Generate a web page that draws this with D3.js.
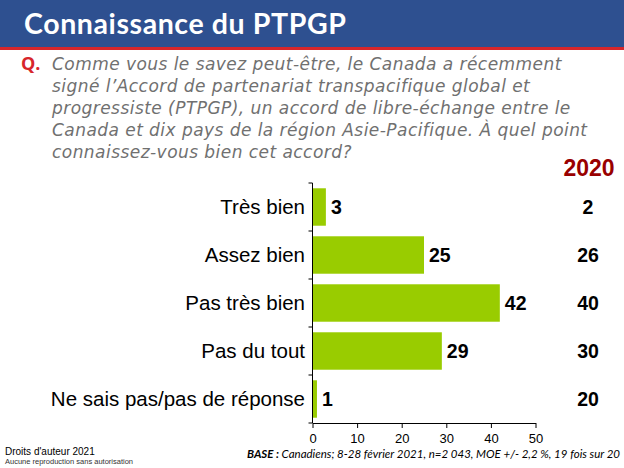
<!DOCTYPE html>
<html><head><meta charset="utf-8">
<script src="https://cdn.jsdelivr.net/npm/d3@7"></script>
<style>html,body{margin:0;padding:0;background:#fff;}svg{display:block;}</style>
</head><body>
<script>
const categories = ["Très bien", "Assez bien", "Pas très bien", "Pas du tout", "Ne sais pas/pas de réponse"];
const values2021 = [3, 25, 42, 29, 1];
const values2020 = [2, 26, 40, 30, 20];
const xTicks = [0, 10, 20, 30, 40, 50];
const questionLines = [
  "Comme vous le savez peut-être, le Canada a récemment",
  "signé l’Accord de partenariat transpacifique global et",
  "progressiste (PTPGP), un accord de libre-échange entre le",
  "Canada et dix pays de la région Asie-Pacifique. À quel point",
  "connaissez-vous bien cet accord?"
];

const W = 624, H = 468;
const svg = d3.select("body").append("svg").attr("width", W).attr("height", H);

// header
svg.append("rect").attr("x",0).attr("y",0).attr("width",W).attr("height",47).attr("fill","#2E5090");
svg.append("rect").attr("x",0).attr("y",47).attr("width",W).attr("height",3).attr("fill","#D7262B");
svg.append("text").attr("x",24).attr("y",34).attr("fill","#fff")
  .attr("font-family","Lato, 'Open Sans', sans-serif").attr("font-weight","bold").attr("font-size",28.5)
  .attr("letter-spacing",0.6)
  .text("Connaissance du PTPGP");

// question
svg.append("text").attr("x",21).attr("y",70).attr("fill","#D7262B")
  .attr("font-family","'Open Sans', sans-serif").attr("font-weight","bold").attr("font-size",18).text("Q.");
svg.append("g").selectAll("text").data(questionLines).join("text")
  .attr("x",52).attr("y",(d,i)=>70+i*22)
  .attr("fill","#707070").attr("font-family","'DejaVu Sans', sans-serif")
  .attr("font-style","italic").attr("font-size",17).attr("letter-spacing",0.45).text(d=>d);

// chart
const x = d3.scaleLinear().domain([0,50]).range([312.5,535.5]);
const y = d3.scaleBand().domain(categories).range([183,423]).paddingInner(0.22).paddingOuter(0.11);

const g = svg.append("g");
g.selectAll("rect.bar").data(categories).join("rect").attr("class","bar")
  .attr("x",x(0)).attr("y",d=>y(d))
  .attr("width",(d,i)=>x(values2021[i])-x(0)).attr("height",y.bandwidth())
  .attr("fill","#99CC00");

// y axis line & ticks at band boundaries
g.append("line").attr("x1",x(0)).attr("x2",x(0)).attr("y1",183).attr("y2",423).attr("stroke","#000").attr("stroke-width",1);
const step = 240/categories.length;
g.selectAll("line.yt").data(d3.range(categories.length+1)).join("line").attr("class","yt")
  .attr("x1",x(0)-4).attr("x2",x(0)).attr("y1",d=>183+d*step).attr("y2",d=>183+d*step)
  .attr("stroke","#000");

// x axis
const xa = svg.append("g").attr("transform","translate(0,423)")
  .call(d3.axisBottom(x).tickValues(xTicks).tickSize(5).tickSizeOuter(0));
xa.select(".domain").attr("stroke","#000");
xa.selectAll(".tick line").attr("stroke","#000");
xa.selectAll("text").attr("font-family","Liberation Sans, Arial, sans-serif").attr("font-size",13).attr("fill","#000").attr("y",11).attr("dy","0.71em");

// category labels
g.selectAll("text.cat").data(categories).join("text").attr("class","cat")
  .attr("x",305).attr("y",d=>y(d)+y.bandwidth()/2).attr("dy","0.36em")
  .attr("text-anchor","end").attr("font-family","Liberation Sans, Arial, sans-serif")
  .attr("font-size",20.5).attr("fill","#000").text(d=>d);

// value labels
g.selectAll("text.val").data(categories).join("text").attr("class","val")
  .attr("x",(d,i)=>x(values2021[i])+5).attr("y",d=>y(d)+y.bandwidth()/2).attr("dy","0.36em")
  .attr("font-family","Liberation Sans, Arial, sans-serif").attr("font-weight","bold")
  .attr("font-size",19.5).attr("fill","#000").text((d,i)=>values2021[i]);

// 2020 column
svg.append("text").attr("x",589).attr("y",176).attr("text-anchor","middle")
  .attr("font-family","'Liberation Sans Narrow', 'Liberation Sans', Arial, sans-serif").attr("font-weight","bold")
  .attr("font-size",23).attr("fill","#990000").text("2020");
g.selectAll("text.v20").data(categories).join("text").attr("class","v20")
  .attr("x",588).attr("y",d=>y(d)+y.bandwidth()/2).attr("dy","0.36em").attr("text-anchor","middle")
  .attr("font-family","Liberation Sans, Arial, sans-serif").attr("font-weight","bold")
  .attr("font-size",19.5).attr("fill","#000").text((d,i)=>values2020[i]);

// footer
svg.append("text").attr("x",5).attr("y",455).attr("font-family","Liberation Sans, Arial, sans-serif")
  .attr("font-size",10).attr("fill","#000").text("Droits d'auteur 2021");
svg.append("text").attr("x",5).attr("y",464).attr("font-family","Liberation Sans, Arial, sans-serif")
  .attr("font-size",7.5).attr("fill","#333").text("Aucune reproduction sans autorisation");
const base = svg.append("text").attr("x",620).attr("y",458).attr("text-anchor","end")
  .attr("font-family","Lato, sans-serif").attr("font-style","italic").attr("font-size",11.5).attr("fill","#000");
base.append("tspan").attr("font-weight","bold").text("BASE :");
base.append("tspan").text(" Canadiens; 8-28 février 2021, n=2 043, MOE +/- 2,2 %, 19 fois sur 20");
</script>
</body></html>
